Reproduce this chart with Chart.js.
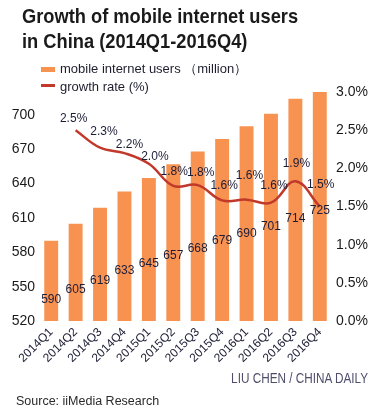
<!DOCTYPE html>
<html>
<head>
<meta charset="utf-8">
<script src="https://cdn.jsdelivr.net/npm/chart.js@4.4.1/dist/chart.umd.min.js"></script>
<style>
  body { margin: 0; background: #fff; }
  #wrap { position: relative; width: 383px; height: 418px; overflow: hidden; font-family: "Liberation Sans", Arial, sans-serif; }
  canvas { position: absolute; left: 0; top: 0; }
  .title { position: absolute; left: 22px; font-weight: bold; font-size: 21px; line-height: 25px; color: #1a1a1a;
           white-space: nowrap; transform: scaleX(0.87); transform-origin: left top; }
  .leg { position: absolute; left: 60px; font-size: 13px; line-height: 16px; color: #1e1e2e; white-space: nowrap; }
  .swatch { position: absolute; left: 41px; width: 14px; }
  .credit { position: absolute; right: 15px; top: 370px; font-size: 14px; line-height: 16px; color: #4f4d6b;
            white-space: nowrap; transform: scaleX(0.84); transform-origin: right top; }
  .source { position: absolute; left: 16px; top: 394px; font-size: 12.5px; line-height: 15px; color: #2a2a2a; white-space: nowrap; }
</style>
</head>
<body>
<div id="wrap">
  <canvas id="mobileChart" width="383" height="418"></canvas>
  <div class="title" style="top:3px">Growth of mobile internet users</div>
  <div class="title" style="top:28px">in China (2014Q1-2016Q4)</div>
  <div class="swatch" style="top:67px;height:5px;background:#f79250"></div>
  <div class="leg" style="top:61px">mobile internet users （million）</div>
  <div class="swatch" style="top:84px;height:3px;background:#c0392b"></div>
  <div class="leg" style="top:79px">growth rate (%)</div>
  <div class="credit">LIU CHEN / CHINA DAILY</div>
  <div class="source">Source: iiMedia Research</div>
</div>
<script>
// data
const quarters = ["2014Q1", "2014Q2", "2014Q3", "2014Q4", "2015Q1", "2015Q2",
                  "2015Q3", "2015Q4", "2016Q1", "2016Q2", "2016Q3", "2016Q4"];
const users = [590, 605, 619, 633, 645, 657, 668, 679, 690, 701, 714, 725];
const growth = [null, 2.5, 2.27, 2.2, 2.06, 1.77, 1.78, 1.58, 1.59, 1.55, 1.83, 1.5];
const growthText = ["", "2.5%", "2.3%", "2.2%", "2.0%", "1.8%", "1.8%", "1.6%", "1.6%", "1.6%", "1.9%", "1.5%"];
const userTicks = [520, 550, 580, 610, 640, 670, 700];
const rateTicks = [0, 0.5, 1, 1.5, 2, 2.5, 3];

// label nudges for the % labels (px)
const rateDx = [0, -2, 4, 5, 6, 1, 3, 2, 3, 3, 1, 1];
const rateDy = [0, 11, 16, 8, 7, 14, 12, 15, 24, 17, 18, 22];

const FONT = '"Liberation Sans", Arial, sans-serif';

// labels on bars and above the line
const valueLabels = {
  id: "valueLabels",
  afterDatasetsDraw(chart) {
    const ctx = chart.ctx;
    const yScale = chart.scales.y;
    ctx.save();
    ctx.fillStyle = "#1c1c38";
    ctx.textAlign = "center";
    ctx.textBaseline = "middle";
    ctx.font = "12px " + FONT;
    chart.getDatasetMeta(0).data.forEach(function (bar, i) {
      // labels sit lower in the bar as values grow
      const ly = yScale.getPixelForValue(539 + (users[i] - 590) * 0.57);
      ctx.fillText(users[i], bar.x, ly);
    });
    chart.getDatasetMeta(1).data.forEach(function (pt, i) {
      if (growth[i] === null) return;
      ctx.fillText(growthText[i], pt.x + rateDx[i], pt.y - rateDy[i]);
    });
    ctx.restore();
  },
};

const ctxMobile = document.getElementById("mobileChart").getContext("2d");
const mobileChart = new Chart(ctxMobile, {
  type: "bar",
  data: {
    labels: quarters,
    datasets: [
      {
        type: "bar",
        label: "mobile internet users (million)",
        data: users,
        backgroundColor: "#f79250",
        barPercentage: 0.57,
        categoryPercentage: 1,
        yAxisID: "y",
        order: 1,
      },
      {
        type: "line",
        label: "growth rate (%)",
        data: growth,
        borderColor: "#c0392b",
        borderWidth: 2.5,
        pointRadius: 0,
        tension: 0.4,
        fill: false,
        yAxisID: "y2",
        order: 0,
      },
    ],
  },
  options: {
    responsive: false,
    animation: false,
    layout: { padding: { top: 92, left: 0, right: 0, bottom: 0 } },
    plugins: {
      legend: { display: false },
      tooltip: { enabled: false },
    },
    scales: {
      x: {
        offset: true,
        grid: { display: false, drawTicks: false },
        border: { display: false },
        ticks: {
          autoSkip: false,
          minRotation: 45,
          maxRotation: 45,
          padding: 4,
          color: "#23233a",
          font: { size: 12, family: FONT },
        },
        afterFit: function (s) { s.height = 97; },
      },
      y: {
        position: "left",
        min: 520,
        max: 720,
        grid: { display: false, drawTicks: false },
        border: { display: false },
        ticks: { padding: 4, color: "#1a1a1a", font: { size: 14, family: FONT } },
        afterBuildTicks: function (s) { s.ticks = userTicks.map(function (v) { return { value: v }; }); },
        afterFit: function (s) { s.width = 39; },
      },
      y2: {
        position: "right",
        min: 0,
        max: 3,
        grid: { display: false, drawTicks: false },
        border: { display: false },
        ticks: {
          padding: 4,
          color: "#1a1a1a",
          font: { size: 14, family: FONT },
          callback: function (value) { return value.toFixed(1) + "%"; },
        },
        afterBuildTicks: function (s) { s.ticks = rateTicks.map(function (v) { return { value: v }; }); },
        afterFit: function (s) { s.width = 51; },
      },
    },
  },
  plugins: [valueLabels],
});
</script>
</body>
</html>
